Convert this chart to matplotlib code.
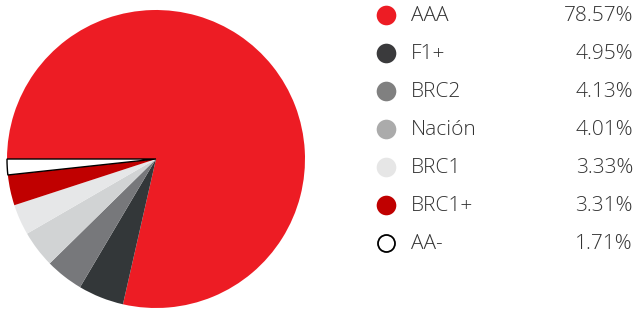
import matplotlib
matplotlib.use("Agg")
import matplotlib.pyplot as plt

labels = ["AAA", "F1+", "BRC2", "Nación", "BRC1", "BRC1+", "AA-"]
values = [78.57, 4.95, 4.13, 4.01, 3.33, 3.31, 1.71]
pct_labels = ["78.57%", "4.95%", "4.13%", "4.01%", "3.33%", "3.31%", "1.71%"]
slice_colors = ["#ED1C24", "#333739", "#77787B", "#D1D3D4", "#E6E7E8", "#C00000", "#FFFFFF"]
legend_colors = ["#ED1C24", "#3A3A3C", "#808080", "#ABABAB", "#E6E6E6", "#C00000", "#FFFFFF"]

plt.rcParams['font.family'] = ['Open Sans', 'DejaVu Sans']

W, H = 636, 309
fig = plt.figure(figsize=(W / 100, H / 100), dpi=100)

cx, cy, r = 156, 159, 149
ax = fig.add_axes([(cx - r) / W, (H - cy - r) / H, 2 * r / W, 2 * r / H])
wedges, _ = ax.pie(values, colors=slice_colors, startangle=180, counterclock=False,
                   radius=1.0, wedgeprops=dict(linewidth=0))
wedges[-1].set_edgecolor("black")
wedges[-1].set_linewidth(1.0)
ax.set_xlim(-1, 1)
ax.set_ylim(-1, 1)
ax.set_aspect("equal")
ax.axis("off")

lax = fig.add_axes([0, 0, 1, 1])
lax.set_xlim(0, W)
lax.set_ylim(H, 0)
lax.axis("off")
y0, dy = 15, 38.0
ys = [y0 + i * dy for i in range(len(labels))]
for i, (lab, pct, col) in enumerate(zip(labels, pct_labels, legend_colors)):
    y = ys[i]
    if col == "#FFFFFF":
        lax.scatter([386], [y], s=150, color=col, edgecolors="black", linewidths=1.3, zorder=3)
    else:
        lax.scatter([386], [y], s=200, color=col, linewidths=0, zorder=3)
    lax.text(411, y + 1, lab, fontsize=15, fontweight="light", color="#333333", va="center", ha="left")
    lax.text(633, y + 1, pct, fontsize=15, fontweight="light", color="#333333", va="center", ha="right")

fig.savefig("out.png", dpi=100)
